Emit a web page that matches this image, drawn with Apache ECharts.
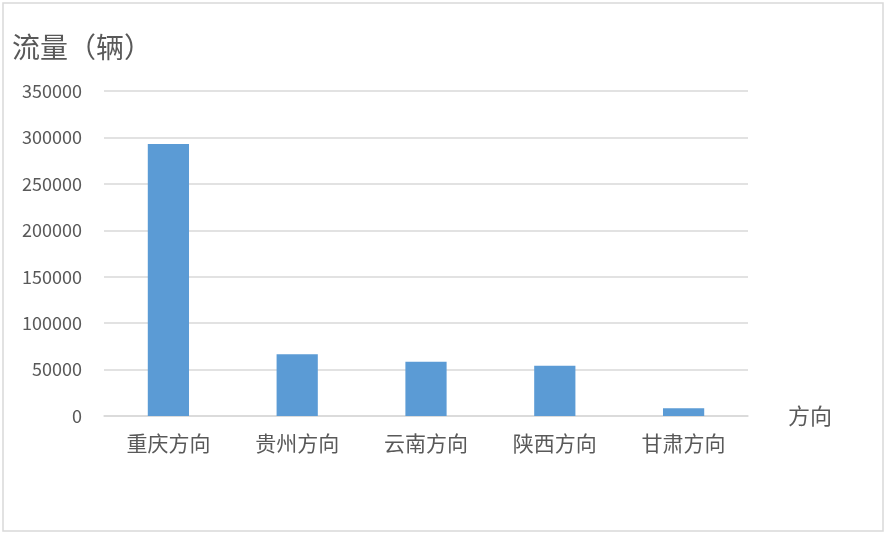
<!DOCTYPE html>
<html>
<head>
<meta charset="utf-8">
<script src="https://cdn.jsdelivr.net/npm/echarts@6/dist/echarts.min.js"></script>
<style>
  html, body { margin: 0; padding: 0; background: #fff; }
  #main { width: 886px; height: 535px; }
</style>
</head>
<body>
<div id="main"></div>
<script>
// 数据
var categories = ['重庆方向', '贵州方向', '云南方向', '陕西方向', '甘肃方向'];
var flowValues = [293000, 66500, 58500, 54000, 8300];
var yTicks = [0, 50000, 100000, 150000, 200000, 250000, 300000, 350000];

var FONT = '"Noto Sans CJK SC", "Noto Sans", sans-serif';
var chart = echarts.init(document.getElementById('main'));

var option = {
  animation: false,
  backgroundColor: '#fff',
  textStyle: { fontFamily: FONT },
  title: {
    text: '流量（辆）',
    left: 7,
    top: 28,
    textStyle: { color: '#595959', fontSize: 28, fontWeight: 'normal', fontFamily: FONT }
  },
  grid: { left: 104, right: 138, top: 91, bottom: 119, containLabel: false },
  xAxis: {
    type: 'category',
    data: categories,
    name: '方向',
    nameLocation: 'end',
    nameGap: 40,
    nameTextStyle: { color: '#595959', fontSize: 22, fontFamily: FONT, padding: [16, 0, 0, 0] },
    axisLine: { lineStyle: { color: '#d9d9d9', width: 1.5 } },
    axisTick: { show: false },
    axisLabel: { color: '#595959', fontSize: 21, margin: 17, fontFamily: FONT }
  },
  yAxis: {
    type: 'value',
    min: yTicks[0],
    max: yTicks[yTicks.length - 1],
    interval: yTicks[1] - yTicks[0],
    axisLine: { show: false },
    axisTick: { show: false },
    axisLabel: {
      color: '#595959', fontSize: 18, margin: 22, fontFamily: FONT,
      formatter: function (v) { return String(v); }
    },
    splitLine: { lineStyle: { color: '#d9d9d9', width: 1.5 } }
  },
  series: [{
    type: 'bar',
    data: flowValues,
    barWidth: '32%',
    itemStyle: { color: '#5b9bd5' }
  }],
  graphic: [{
    type: 'rect',
    shape: { x: 3, y: 3, width: 880, height: 528 },
    style: { fill: 'none', stroke: '#d9d9d9', lineWidth: 1.5 },
    silent: true
  }]
};

chart.setOption(option);
</script>
</body>
</html>
